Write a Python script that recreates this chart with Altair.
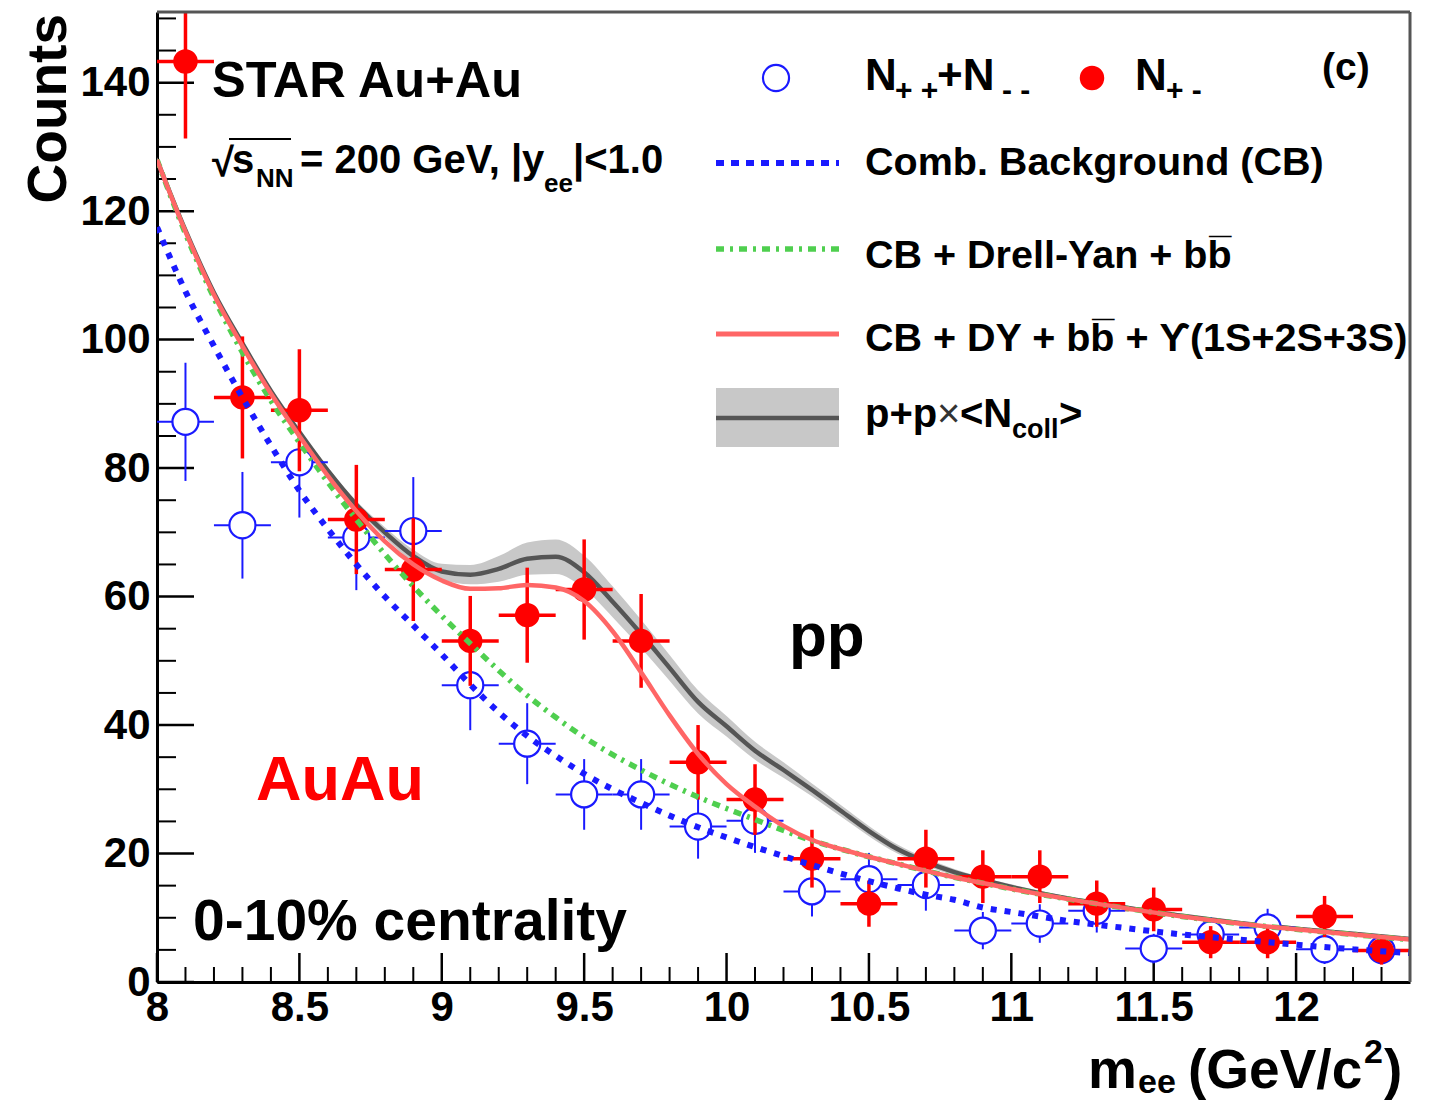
import altair as alt
import pandas as pd

FONT = "Liberation Sans"

# ---------------- data ----------------
bin_centers = [8.1, 8.3, 8.5, 8.7, 8.9, 9.1, 9.3, 9.5, 9.7, 9.9, 10.1,
               10.3, 10.5, 10.7, 10.9, 11.1, 11.3, 11.5, 11.7, 11.9, 12.1, 12.3]
bin_half = 0.1

unlike_counts = [143.3, 91.0, 89.0, 72.0, 64.2, 53.1, 57.1, 61.1, 53.1, 34.2, 28.4,
                 19.2, 12.2, 19.2, 16.4, 16.4, 12.2, 11.3, 6.2, 6.2, 10.2, 4.9]
unlike_err = [12.0, 9.5, 9.5, 8.5, 8.0, 7.0, 7.4, 7.8, 7.3, 5.8, 5.5,
              4.5, 3.6, 4.5, 4.1, 4.1, 3.6, 3.4, 2.5, 2.5, 3.2, 2.2]

like_counts = [87.2, 71.1, 80.9, 69.2, 70.2, 46.2, 37.1, 29.2, 29.2, 24.2, 25.1,
               14.1, 16.0, 15.1, 8.0, 9.1, 11.1, 5.2, 7.4, 8.5, 5.1, 5.0]
like_err = [9.2, 8.3, 8.6, 8.2, 8.4, 7.0, 6.3, 5.5, 5.5, 5.0, 5.0,
            3.9, 4.1, 4.0, 2.9, 3.0, 3.4, 2.3, 2.7, 2.9, 2.3, 2.2]

curve_mass = [8.0, 8.1, 8.2, 8.3, 8.4, 8.5, 8.6, 8.7, 8.8, 8.9, 9.0, 9.1, 9.2, 9.3,
              9.4, 9.5, 9.6, 9.7, 9.8, 9.9, 10.0, 10.1, 10.2, 10.3, 10.4, 10.5,
              10.6, 10.7, 10.8, 10.9, 11.0, 11.2, 11.4, 11.6, 11.8, 12.0, 12.2, 12.4]
cb_curve = [117.5, 107.5, 99.0, 91.0, 83.5, 76.5, 70.5, 65.0, 60.0, 55.5, 51.0, 46.3,
            42.0, 38.3, 35.2, 32.4, 30.0, 27.9, 25.9, 24.1, 22.5, 21.0, 19.6, 18.2,
            16.9, 15.7, 14.6, 13.6, 12.8, 11.6, 10.9, 9.5, 8.4, 7.4, 6.6, 5.8, 5.1, 4.5]
cb_dy_bb_curve = [128.0, 116.5, 106.5, 98.0, 90.5, 84.0, 77.8, 72.0, 66.6, 61.6, 57.0,
                  52.7, 48.5, 44.6, 41.2, 38.1, 35.4, 33.0, 30.8, 28.8, 27.0, 25.3, 23.6,
                  22.0, 20.7, 19.5, 18.4, 17.3, 16.3, 15.4, 14.5, 12.9, 11.5, 10.2, 9.1,
                  8.2, 7.4, 6.6]
total_curve = [128.0, 116.8, 107.0, 99.0, 91.6, 85.0, 78.8, 73.3, 68.6, 65.0, 62.5,
               61.2, 61.3, 61.8, 61.4, 59.3, 54.6, 48.2, 41.5, 35.5, 30.8, 27.3, 24.3,
               22.1, 20.7, 19.5, 18.4, 17.3, 16.3, 15.4, 14.5, 12.9, 11.5, 10.2, 9.1,
               8.2, 7.4, 6.6]
pp_curve = [128.0, 117.0, 107.3, 99.4, 92.0, 85.6, 79.6, 74.3, 70.0, 66.3, 63.9, 63.4,
            64.3, 65.9, 66.2, 63.8, 59.2, 54.2, 48.9, 43.6, 39.8, 36.0, 33.0, 29.9,
            26.7, 23.5, 20.7, 18.7, 17.1, 15.9, 14.8, 13.0, 11.6, 10.3, 9.2, 8.3, 7.5, 6.7]
pp_band = [0.4, 0.4, 0.4, 0.4, 0.4, 0.4, 0.5, 0.6, 0.8, 1.0, 1.2, 1.5, 2.0, 2.5, 2.7,
           2.6, 2.4, 2.2, 2.0, 1.8, 1.6, 1.4, 1.2, 1.0, 0.9, 0.8, 0.7, 0.6, 0.5, 0.4,
           0.4, 0.3, 0.3, 0.3, 0.3, 0.3, 0.3, 0.3]

x_major = [8, 8.5, 9, 9.5, 10, 10.5, 11, 11.5, 12]
y_major = [0, 20, 40, 60, 80, 100, 120, 140]
x_minor = [round(8 + 0.1 * i, 1) for i in range(45) if i % 5 != 0]
y_minor = [5 * i for i in range(31) if i % 4 != 0]

# ---------------- tables ----------------
def points_df(counts, err):
    return pd.DataFrame({
        "m": bin_centers,
        "m_lo": [c - bin_half for c in bin_centers],
        "m_hi": [c + bin_half for c in bin_centers],
        "n": counts,
        "n_lo": [c - e for c, e in zip(counts, err)],
        "n_hi": [c + e for c, e in zip(counts, err)],
    })

unlike_df = points_df(unlike_counts, unlike_err)
like_df = points_df(like_counts, like_err)
curves_df = pd.DataFrame({
    "m": curve_mass, "cb": cb_curve, "dy": cb_dy_bb_curve, "tot": total_curve,
    "pp": pp_curve,
    "pp_lo": [v - e for v, e in zip(pp_curve, pp_band)],
    "pp_hi": [v + e for v, e in zip(pp_curve, pp_band)],
})

W, H = 1253, 970
OX, OY = 157, 12

xs = alt.Scale(domain=[8, 12.4], nice=False, zero=False)
ys = alt.Scale(domain=[0, 151], nice=False, zero=False)
AX = alt.Axis(values=x_major, format=".1~f", labelFont=FONT, labelFontSize=42,
              labelFontWeight="bold", labelColor="black", ticks=False, tickSize=0,
              domain=True, domainColor="black", domainWidth=3, grid=False, title=None,
              labelPadding=5, labelFlush=False, labelOverlap=False)
AY = alt.Axis(values=y_major, labelFont=FONT, labelFontSize=42, labelFontWeight="bold",
              labelColor="black", ticks=False, tickSize=0, domain=True,
              domainColor="black", domainWidth=3, grid=False, title=None,
              labelPadding=7, labelOverlap=False)

def X(f):
    return alt.X(f, type="quantitative", scale=xs, axis=AX)

def Y(f):
    return alt.Y(f, type="quantitative", scale=ys, axis=AY)

layers = []

# inner ticks
xt_major = pd.DataFrame({"t": x_major})
xt_minor = pd.DataFrame({"t": x_minor})
yt_major = pd.DataFrame({"t": y_major})
yt_minor = pd.DataFrame({"t": y_minor})
layers.append(alt.Chart(xt_major).mark_rule(color="black", strokeWidth=2.5).encode(
    x=X("t"), y=alt.value(H), y2=alt.value(H - 29)))
layers.append(alt.Chart(xt_minor).mark_rule(color="black", strokeWidth=2).encode(
    x=X("t"), y=alt.value(H), y2=alt.value(H - 15)))
layers.append(alt.Chart(yt_major).mark_rule(color="black", strokeWidth=2.5).encode(
    y=Y("t"), x=alt.value(0), x2=alt.value(37)))
layers.append(alt.Chart(yt_minor).mark_rule(color="black", strokeWidth=2).encode(
    y=Y("t"), x=alt.value(0), x2=alt.value(19)))

# pp x Ncoll band and line
layers.append(alt.Chart(curves_df).mark_area(color="#c8c8c8", interpolate="monotone",
                                             clip=True).encode(
    x=X("m"), y=Y("pp_lo"), y2="pp_hi"))
layers.append(alt.Chart(curves_df).mark_line(color="#555555", strokeWidth=4.5,
                                             interpolate="monotone", clip=True).encode(
    x=X("m"), y=Y("pp")))

# like-sign points (open blue)
BLUE = "#1a1aff"
layers.append(alt.Chart(like_df).mark_rule(color=BLUE, strokeWidth=2, clip=True).encode(
    x=X("m_lo"), x2="m_hi", y=Y("n")))
layers.append(alt.Chart(like_df).mark_rule(color=BLUE, strokeWidth=2, clip=True).encode(
    x=X("m"), y=Y("n_lo"), y2="n_hi"))
layers.append(alt.Chart(like_df).mark_point(shape="circle", filled=True, fill="white",
                                            stroke=BLUE, strokeWidth=2.2, size=680,
                                            opacity=1, clip=True).encode(
    x=X("m"), y=Y("n")))

# unlike-sign points (filled red)
RED = "#ff0000"
layers.append(alt.Chart(unlike_df).mark_rule(color=RED, strokeWidth=3.5, clip=True).encode(
    x=X("m_lo"), x2="m_hi", y=Y("n")))
layers.append(alt.Chart(unlike_df).mark_rule(color=RED, strokeWidth=3.5, clip=True).encode(
    x=X("m"), y=Y("n_lo"), y2="n_hi"))
layers.append(alt.Chart(unlike_df).mark_circle(color=RED, size=600, opacity=1,
                                               clip=True).encode(
    x=X("m"), y=Y("n")))

# model curves
GREEN = "#4fcf4f"
layers.append(alt.Chart(curves_df).mark_line(color=BLUE, strokeWidth=6, strokeDash=[6, 8],
                                             interpolate="monotone", clip=True).encode(
    x=X("m"), y=Y("cb")))
layers.append(alt.Chart(curves_df).mark_line(color=GREEN, strokeWidth=5.5,
                                             strokeDash=[8, 6, 3, 6],
                                             interpolate="monotone", clip=True).encode(
    x=X("m"), y=Y("dy")))
layers.append(alt.Chart(curves_df).mark_line(color="#ff6666", strokeWidth=4.5,
                                             interpolate="monotone", clip=True).encode(
    x=X("m"), y=Y("tot")))

# frame top and right
one = pd.DataFrame({"a": [0]})
layers.append(alt.Chart(one).mark_rule(color="#555555", strokeWidth=3).encode(
    x=alt.value(0), x2=alt.value(W), y=alt.value(0)))
layers.append(alt.Chart(one).mark_rule(color="#555555", strokeWidth=3).encode(
    x=alt.value(W), y=alt.value(0), y2=alt.value(H)))


def txt(s, x, y, size, color="black", align="left", angle=0, baseline="alphabetic",
        weight="bold"):
    return alt.Chart(one).mark_text(align=align, baseline=baseline, font=FONT,
                                    fontSize=size, fontWeight=weight, color=color,
                                    angle=angle).encode(
        x=alt.value(x - OX), y=alt.value(y - OY), text=alt.value(s))


def hline(x1, x2, y, color, width, dash=None):
    kw = dict(color=color, strokeWidth=width)
    if dash:
        kw["strokeDash"] = dash
    return alt.Chart(one).mark_rule(**kw).encode(
        x=alt.value(x1 - OX), x2=alt.value(x2 - OX), y=alt.value(y - OY))


# annotations in the plot
layers += [
    txt("STAR Au+Au", 212, 97, 50.5),
    txt("\u221a", 212, 176, 40),
    hline(229, 291, 139, "black", 2),
    txt("s", 232, 173, 40),
    txt("NN", 256, 187, 26),
    txt("= 200 GeV, |y", 300, 173, 40),
    txt("ee", 544, 192, 26),
    txt("|<1.0", 573, 173, 40),
    txt("0-10% centrality", 193, 940, 57),
    txt("AuAu", 256, 800, 63, color=RED),
    txt("pp", 789, 656, 62),
    txt("(c)", 1322, 80, 39),
]

# legend
layers += [
    alt.Chart(one).mark_point(shape="circle", filled=True, fill="white", stroke=BLUE,
                              strokeWidth=2.2, size=680, opacity=1).encode(
        x=alt.value(776 - OX), y=alt.value(78 - OY)),
    txt("N", 865, 90, 44),
    txt("+ +", 895, 100, 30),
    txt("+N", 937, 90, 44),
    txt("- -", 1002, 100, 30),
    alt.Chart(one).mark_circle(color=RED, size=600, opacity=1).encode(
        x=alt.value(1092 - OX), y=alt.value(78 - OY)),
    txt("N", 1135, 90, 44),
    txt("+ -", 1166, 100, 30),
    hline(716, 839, 163, BLUE, 6, [8, 7]),
    txt("Comb. Background (CB)", 865, 175, 39.5),
    hline(716, 839, 249, GREEN, 5.5, [8, 6, 3, 6]),
    txt("CB + Drell-Yan + bb\u0305", 865, 268, 39.5),
    hline(716, 839, 334, "#ff6666", 5),
    txt("CB + DY + bb\u0305 + \u03d2(1S+2S+3S)", 865, 351, 39.5),
    alt.Chart(one).mark_rect(color="#c8c8c8").encode(
        x=alt.value(716 - OX), x2=alt.value(839 - OX),
        y=alt.value(388 - OY), y2=alt.value(447 - OY)),
    hline(716, 839, 418, "#555555", 4.5),
    txt("p+p", 865, 427, 40),
    txt("\u00d7", 937, 427, 40, color="#333333", weight="normal"),
    txt("<N", 960, 427, 40),
    txt("coll", 1012, 438, 27),
    txt(">", 1059, 427, 40),
]

# axis titles
layers += [
    txt("Counts", 66, 14, 55, align="right", angle=270),
    txt("m", 1088, 1088, 55),
    txt("ee", 1138, 1093, 34),
    txt("(GeV/c", 1188, 1088, 55),
    txt("2", 1364, 1063, 34),
    txt(")", 1384, 1088, 55),
]

chart = alt.layer(*layers).properties(
    width=W, height=H,
    padding={"left": OX, "top": OY, "right": 1440 - OX - W, "bottom": 1103 - OY - H},
    autosize=alt.AutoSizeParams(type="none"),
    background="white",
).configure_view(stroke=None)

chart.save("out.html", embed_options={"renderer": "svg", "actions": False})
